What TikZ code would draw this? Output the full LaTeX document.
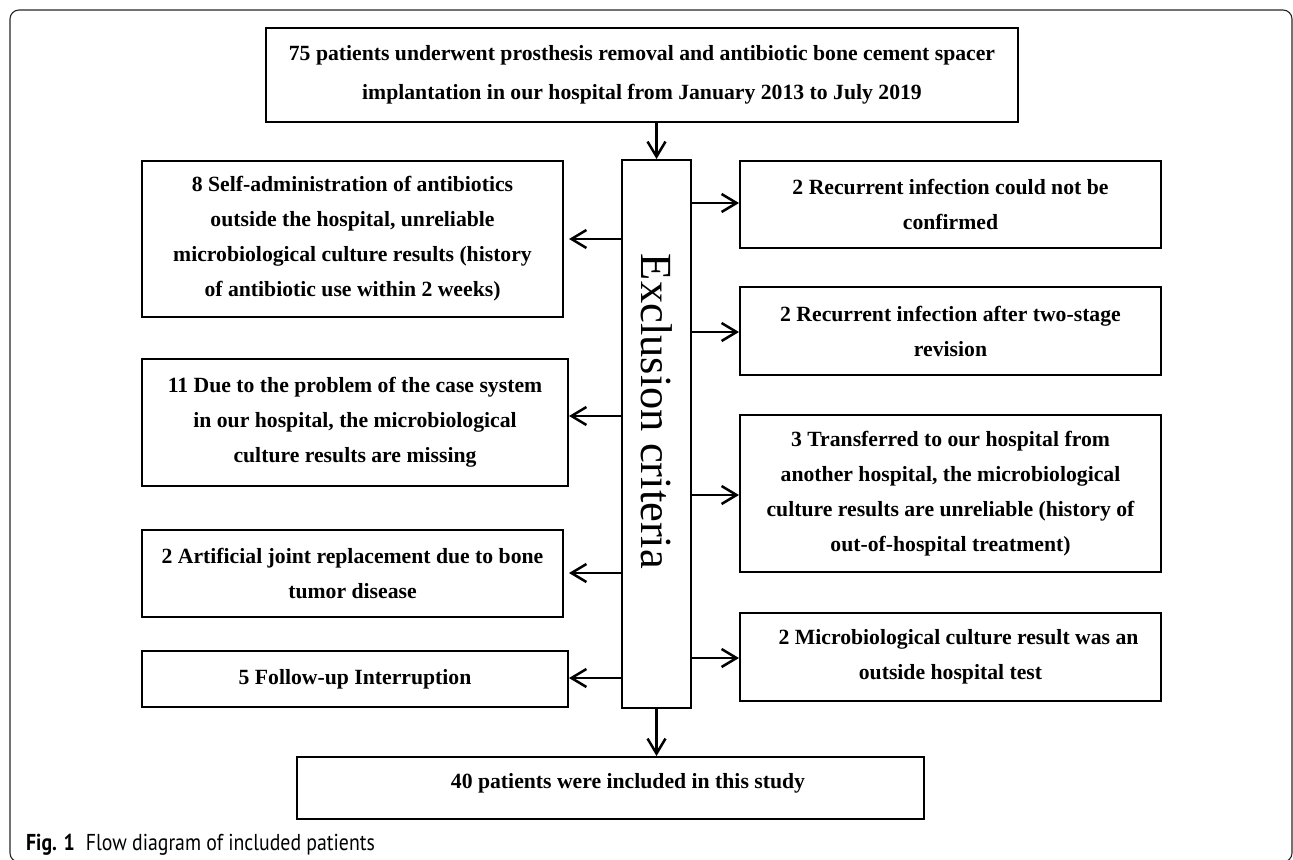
\documentclass[tikz,border=0pt]{standalone}
\usepackage{fontspec}
\setmainfont{Liberation Serif}
\newfontfamily\capfont[FakeStretch=0.86]{PT Sans}
\usetikzlibrary{arrows.meta}
\begin{document}
\begin{tikzpicture}[x=1bp,y=-1bp,
  box/.style={draw, line width=2bp, inner sep=0pt, align=center,
    font=\bfseries\fontsize{21.7bp}{35bp}\selectfont},
  arr/.style={-{Straight Barb[length=15bp,width=18bp]}, line width=2.5bp}]
\useasboundingbox (0,0) rectangle (1293,860);
\draw[line width=1.1bp, draw=black!85, rounded corners=9bp] (10,10) rectangle (1292,862);
% top and bottom
\node[box, minimum width=752bp, minimum height=94bp,
  font=\bfseries\fontsize{21.7bp}{39bp}\selectfont] (top) at (642,75)
  {75 patients underwent prosthesis removal and antibiotic bone cement spacer\\implantation in our hospital from January 2013 to July 2019};
\node[box, minimum width=69bp, minimum height=548bp] (ctr) at (656.5,434) {};
\node[rotate=-90, inner sep=0pt, font=\fontsize{44.5bp}{44.5bp}\selectfont] (ex) at (656.5,411.5) {Exclusion criteria};
\node[box, minimum width=627bp, minimum height=62bp] (bot) at (610.5,788) {};
\node[inner sep=0pt, font=\bfseries\fontsize{21.7bp}{35bp}\selectfont] (bottxt) at (628,783) {40 patients were included in this study};
% left boxes
\node[box, minimum width=421bp, minimum height=156bp] (l1) at (352.5,239)
  {8 Self-administration of antibiotics\\outside the hospital, unreliable\\microbiological culture results (history\\of antibiotic use within 2 weeks)};
\node[box, minimum width=426bp, minimum height=127bp] (l2) at (355,422.5)
  {11 Due to the problem of the case system\\in our hospital, the microbiological\\culture results are missing};
\node[box, minimum width=421bp, minimum height=87bp] (l3) at (352.5,573.5)
  {2 Artificial joint replacement due to bone\\tumor disease};
\node[box, minimum width=426bp, minimum height=56bp] (l4) at (355,679)
  {5 Follow-up Interruption};
% right boxes
\node[box, minimum width=421bp, minimum height=87bp] (r1) at (950.5,204.5)
  {2 Recurrent infection could not be\\confirmed};
\node[box, minimum width=421bp, minimum height=88bp] (r2) at (950.5,331)
  {2 Recurrent infection after two-stage\\revision};
\node[box, minimum width=421bp, minimum height=157bp] (r3) at (950.5,493.5)
  {3 Transferred to our hospital from\\another hospital, the microbiological\\culture results are unreliable (history of\\out-of-hospital treatment)};
\node[box, minimum width=421bp, minimum height=88bp] (r4) at (950.5,657)
  {\hspace{16bp}2 Microbiological culture result was an\\outside hospital test};
% connectors
\draw[arr] (top.south -| ctr.north) -- (ctr.north);
\draw[arr] (ctr.south) -- (ctr.south |- bot.north);
\draw[arr] (ctr.west |- 0,239) -- (568,239 -| l2.east);
\draw[arr] (ctr.west |- 0,416) -- (l2.east |- 0,416);
\draw[arr] (ctr.west |- 0,573) -- (568,573 -| l2.east);
\draw[arr] (ctr.west |- 0,678) -- (l4.east |- 0,678);
\draw[arr] (ctr.east |- 0,203) -- (r1.west |- 0,203);
\draw[arr] (ctr.east |- 0,332) -- (r2.west |- 0,332);
\draw[arr] (ctr.east |- 0,495) -- (r3.west |- 0,495);
\draw[arr] (ctr.east |- 0,658) -- (r4.west |- 0,658);
% caption
\node[anchor=base west, inner sep=0pt, font=\capfont\fontsize{23bp}{23bp}\selectfont] (cap) at (26,850)
  {\textbf{Fig. 1}\hspace{11bp}Flow diagram of included patients};
\end{tikzpicture}
\end{document}
